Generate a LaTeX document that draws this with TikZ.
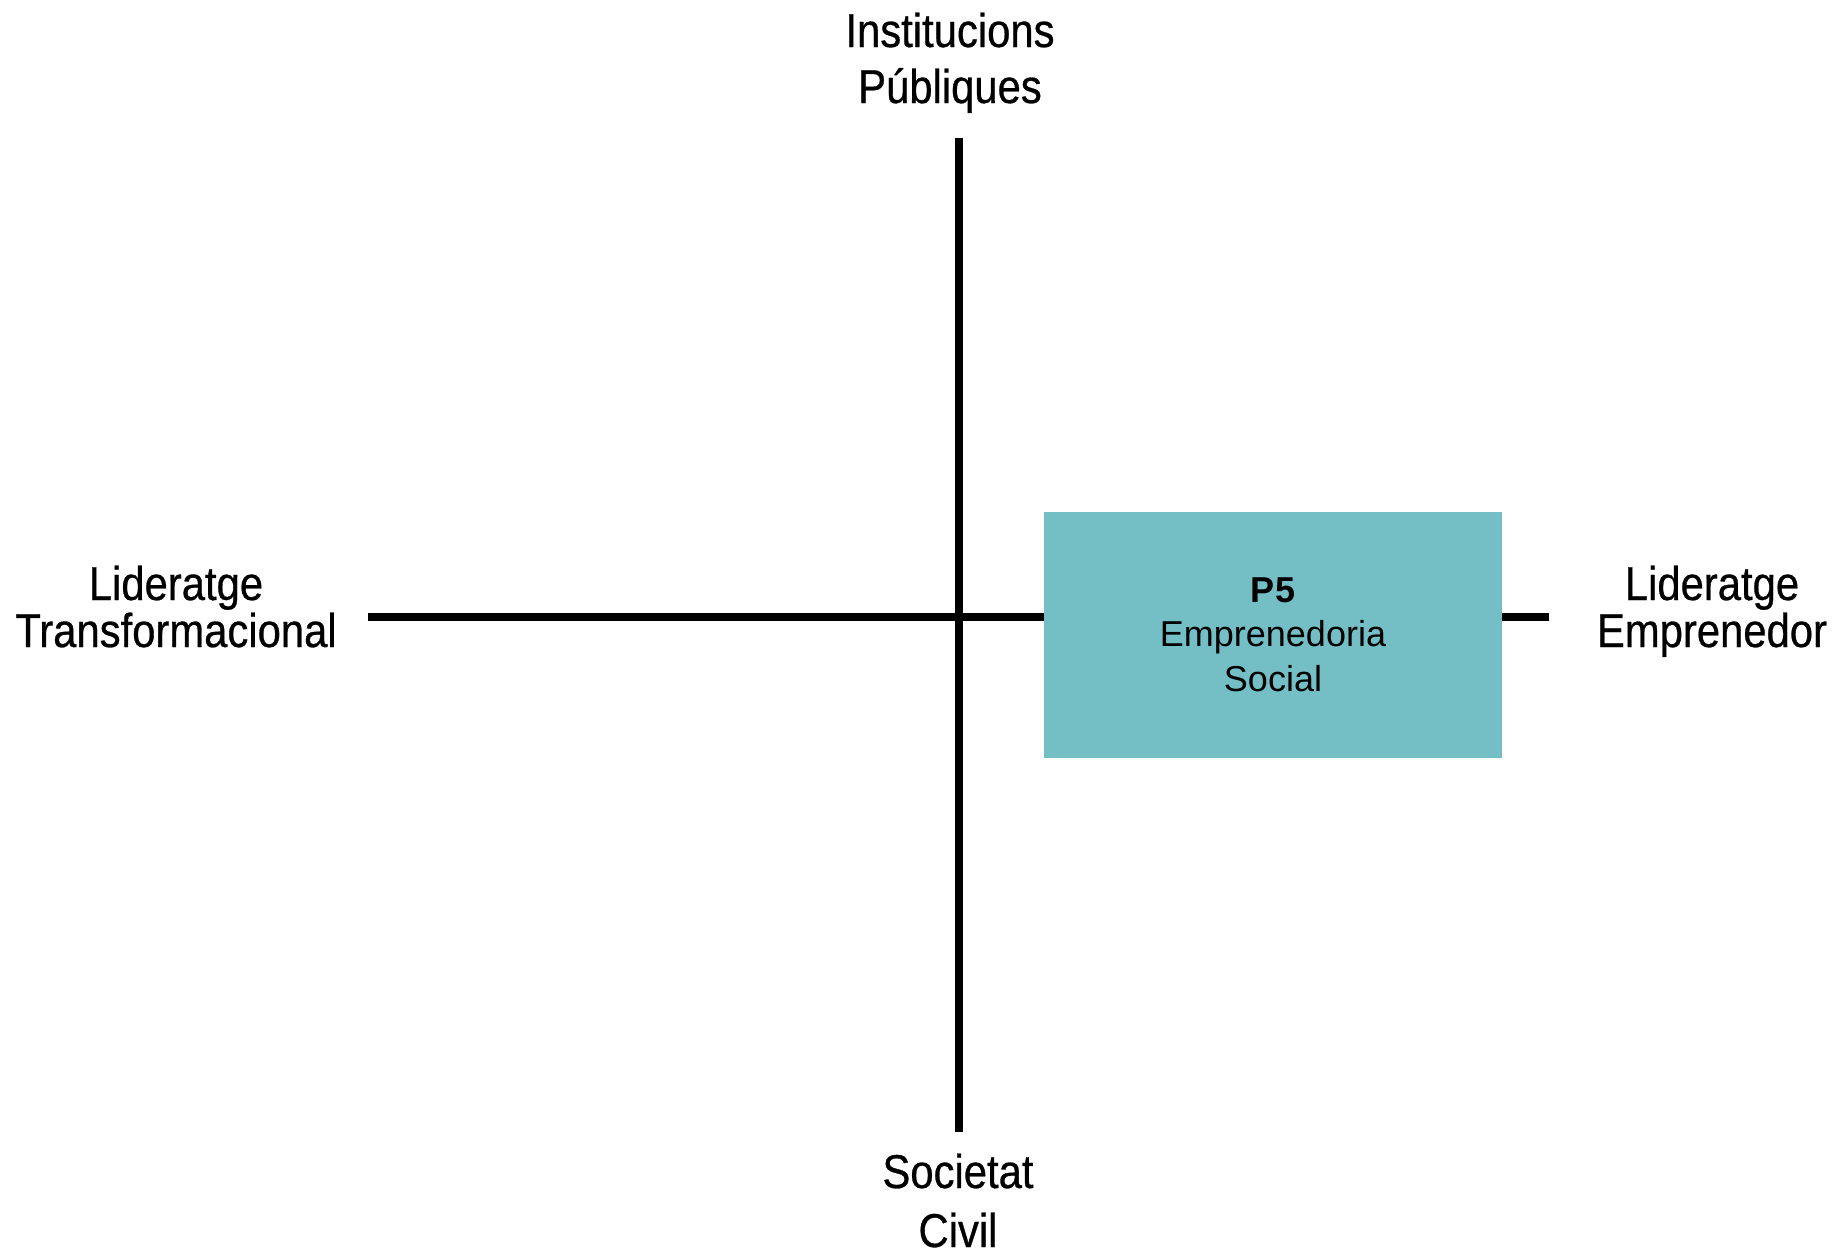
\documentclass[tikz,border=0pt]{standalone}
\usepackage{fontspec}
\setmainfont{Liberation Sans}
\newfontfamily\narrowfont{Liberation Sans}[FakeStretch=0.88,FakeBold=0.6]
\definecolor{boxteal}{RGB}{115,191,197}
\begin{document}
\begin{tikzpicture}[x=0.5pt,y=-0.5pt,
  axis/.style={line width=4pt,black},
  axislabel/.style={font=\narrowfont\fontsize{23.75}{25}\selectfont,align=center,inner sep=0pt,anchor=base},
  pbox/.style={fill=boxteal,draw=none,minimum width=229pt,minimum height=122.75pt,inner sep=0pt,align=center,font=\fontsize{18}{22.25}\selectfont}]
\useasboundingbox (0,0) rectangle (1833,1249);
\coordinate (top) at (958.5,138);
\coordinate (bottom) at (958.5,1131.7);
\coordinate (left) at (368,617);
\coordinate (right) at (1549,617);
\draw[axis] (left) -- (right);
\draw[axis] (top) -- (bottom);
\node[pbox] (p5) at (1273,634.75) {\textbf{P5}\\Emprenedoria\\Social};
\node[axislabel] (ip) at (950,103) {Institucions\\[3pt]Públiques};
\node[axislabel] (lt) at (176,647) {Lideratge\\[-1.5pt]Transformacional};
\node[axislabel] (le) at (1712,647) {Lideratge\\[-1.5pt]Emprenedor};
\node[axislabel] (sc) at (958,1247) {Societat\\[4.5pt]Civil};
\end{tikzpicture}
\end{document}
